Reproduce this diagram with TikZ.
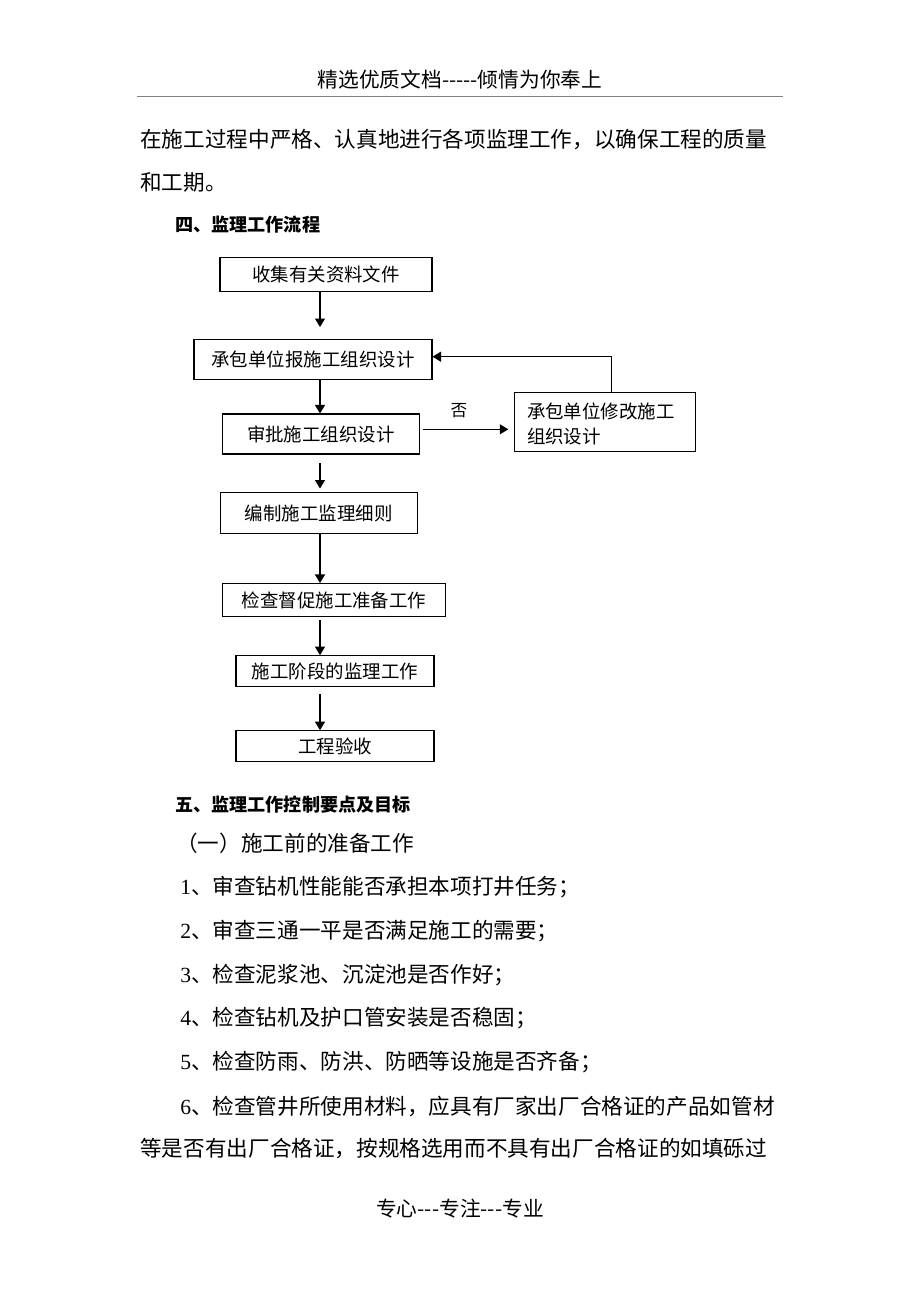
\documentclass[tikz,border=0pt]{standalone}
\usepackage{fontspec}
\setmainfont{Noto Sans CJK SC}
\newfontfamily\latinfont{Liberation Serif}
\usetikzlibrary{arrows.meta}

\newcommand{\lat}[1]{{\latinfont #1}}

\begin{document}
\begin{tikzpicture}[
		x=0.02cm, y=-0.02cm,
		flowbox/.style={rectangle, draw, line width=0.6pt, inner sep=0pt,
			font=\fontsize{10.5}{13}\selectfont},
		flowarrow/.style={-{Triangle[length=1.7mm, width=2mm]}, line width=0.6pt},
		bodytext/.style={anchor=west, inner sep=0pt, font=\fontsize{12.3}{14}\selectfont},
		headtext/.style={anchor=west, inner sep=0pt, font=\fontsize{10.3}{13}\selectfont\bfseries},
		pagetext/.style={inner sep=0pt, font=\fontsize{11.8}{13}\selectfont}
	]
  \useasboundingbox (0,0) rectangle (920,1302);
  % page header and footer
  \node (header) [pagetext] at (460,80) {精选优质文档-{}-{}-{}-{}-倾情为你奉上};
  \coordinate (rule_l) at (137,96);
  \coordinate (rule_r) at (783,96);
  \draw [black!50, line width=0.5pt] (rule_l) -- (rule_r);
  \node (footer) [pagetext] at (460,1209) {专心-{}-{}-专注-{}-{}-专业};
  % running text
  \node (line_a) [bodytext] at (140,139) {在施工过程中严格、认真地进行各项监理工作，以确保工程的质量};
  \node (line_b) [bodytext] at (140,182) {和工期。};
  \node (sec_4) [headtext] at (175,225) {四、监理工作流程};
  % flow chart
  \node (collect) [flowbox, minimum width=212*0.02cm, minimum height=34*0.02cm] at (326,274.5) {收集有关资料文件};
  \node (report) [flowbox, minimum width=238*0.02cm, minimum height=40*0.02cm] at (313,359.3) {承包单位报施工组织设计};
  \node (approve) [flowbox, minimum width=197*0.02cm, minimum height=40*0.02cm] at (320.8,434) {审批施工组织设计};
  \node (revise) [flowbox, minimum width=181*0.02cm, minimum height=59*0.02cm] at (604.7,421.7) {};
  \node (revise_txt) [anchor=west, inner sep=0pt, align=left, font=\fontsize{10.5}{13.8}\selectfont] at (526.7,424) {承包单位修改施工\\组织设计};
  \node (rules) [flowbox, minimum width=197*0.02cm, minimum height=41*0.02cm] at (318.7,513.3) {编制施工监理细则};
  \node (check) [flowbox, minimum width=223*0.02cm, minimum height=33*0.02cm] at (334,600) {检查督促施工准备工作};
  \node (stage) [flowbox, minimum width=198*0.02cm, minimum height=31*0.02cm] at (335,671.2) {施工阶段的监理工作};
  \node (accept) [flowbox, minimum width=198*0.02cm, minimum height=31*0.02cm] at (335,746.2) {工程验收};
  \node (no) [inner sep=0pt, font=\fontsize{9.5}{11}\selectfont] at (459,411) {否};
  \coordinate (col) at (320,0);
  \coordinate (tip_a) at (320,327);
  \coordinate (start_c) at (320,463);
  \coordinate (tip_c) at (320,488.5);
  \coordinate (start_e) at (320,620);
  \coordinate (start_f) at (320,694);
  \coordinate (no_start) at (423.3,429.3);
  \coordinate (no_tip) at (508.3,429.3);
  \coordinate (back) at (611.7,356.7);
  \draw [flowarrow] (collect.south -| col) -- (tip_a);
  \draw [flowarrow] (report.south -| col) -- (approve.north -| col);
  \draw [flowarrow] (start_c) -- (tip_c);
  \draw [flowarrow] (rules.south -| col) -- (check.north -| col);
  \draw [flowarrow] (start_e) -- (stage.north -| col);
  \draw [flowarrow] (start_f) -- (accept.north -| col);
  \draw [flowarrow] (no_start) -- (no_tip);
  \draw [flowarrow] (revise.north -| back) -- (back) -- (report.east |- back);
  % section five
  \node (sec_5) [headtext] at (175,805) {五、监理工作控制要点及目标};
  \node (sub_1) [bodytext] at (176,843) {（一）施工前的准备工作};
  \node (item_1) [bodytext] at (180,887) {\lat{1}、审查钻机性能能否承担本项打井任务；};
  \node (item_2) [bodytext] at (180,931) {\lat{2}、审查三通一平是否满足施工的需要；};
  \node (item_3) [bodytext] at (180,975) {\lat{3}、检查泥浆池、沉淀池是否作好；};
  \node (item_4) [bodytext] at (180,1018) {\lat{4}、检查钻机及护口管安装是否稳固；};
  \node (item_5) [bodytext] at (180,1062) {\lat{5}、检查防雨、防洪、防晒等设施是否齐备；};
  \node (item_6) [bodytext] at (180,1106) {\lat{6}、检查管井所使用材料，应具有厂家出厂合格证的产品如管材};
  \node (item_6b) [bodytext] at (140,1149) {等是否有出厂合格证，按规格选用而不具有出厂合格证的如填砾过};
\end{tikzpicture}
\end{document}
